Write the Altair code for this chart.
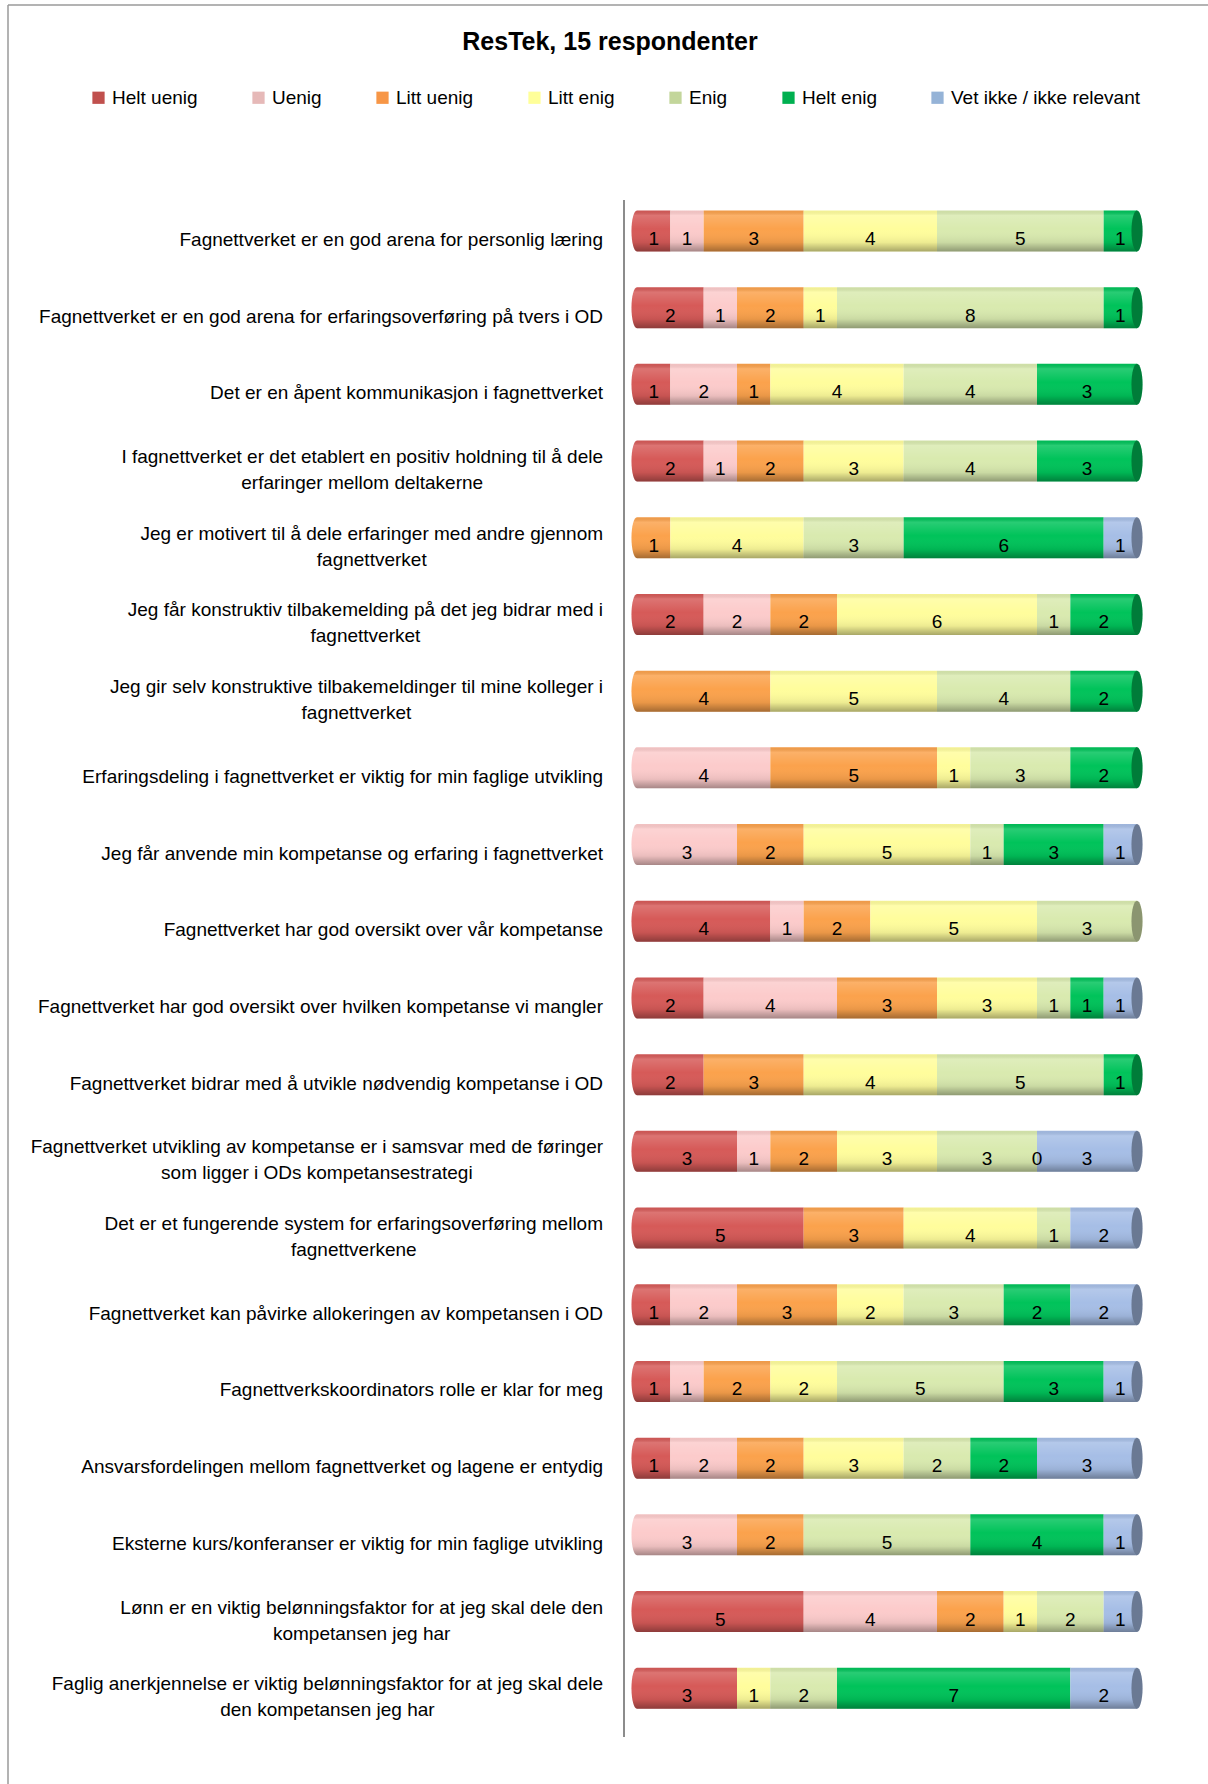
import altair as alt
import pandas as pd

TITLE = "ResTek, 15 respondenter"
FONT = "Liberation Sans"

categories = [
    "Helt uenig", "Uenig", "Litt uenig", "Litt enig",
    "Enig", "Helt enig", "Vet ikke / ikke relevant",
]
# Legend swatches and the lit cylinder bodies
palette = ["#C0504D", "#E6B9B8", "#F79646", "#FFFF99", "#C3D69B", "#00B050", "#95B3D7"]
body_palette = ["#D65A58", "#FCCBCB", "#FBA24C", "#FFFD9C", "#D9EAAF", "#00C35A", "#A6BEE6"]

# Statements, split into the lines they are printed on
questions = [
    ("Fagnettverket er en god arena for personlig læring",),
    ("Fagnettverket er en god arena for erfaringsoverføring på tvers i OD",),
    ("Det er en åpent kommunikasjon i fagnettverket",),
    ("I fagnettverket er det etablert en positiv holdning til å dele", "erfaringer mellom deltakerne"),
    ("Jeg er motivert til å dele erfaringer med andre gjennom", "fagnettverket"),
    ("Jeg får konstruktiv tilbakemelding på det jeg bidrar med i", "fagnettverket"),
    ("Jeg gir selv konstruktive tilbakemeldinger til mine kolleger i", "fagnettverket"),
    ("Erfaringsdeling i fagnettverket er viktig for min faglige utvikling",),
    ("Jeg får anvende min kompetanse og erfaring i fagnettverket",),
    ("Fagnettverket har god oversikt over vår kompetanse",),
    ("Fagnettverket har god oversikt over hvilken kompetanse vi mangler",),
    ("Fagnettverket bidrar med å utvikle nødvendig kompetanse i OD",),
    ("Fagnettverket utvikling av kompetanse er i samsvar med de føringer", "som ligger i ODs kompetansestrategi"),
    ("Det er et fungerende system for erfaringsoverføring mellom", "fagnettverkene"),
    ("Fagnettverket kan påvirke allokeringen av kompetansen i OD",),
    ("Fagnettverkskoordinators rolle er klar for meg",),
    ("Ansvarsfordelingen mellom fagnettverket og lagene er entydig",),
    ("Eksterne kurs/konferanser er viktig for min faglige utvikling",),
    ("Lønn er en viktig belønningsfaktor for at jeg skal dele den", "kompetansen jeg har"),
    ("Faglig anerkjennelse er viktig belønningsfaktor for at jeg skal dele", "den kompetansen jeg har"),
]

# Number of respondents per answer (None = no answer recorded)
helt_uenig = [1, 2, 1, 2, None, 2, None, None, None, 4, 2, 2, 3, 5, 1, 1, 1, None, 5, 3]
uenig      = [1, 1, 2, 1, None, 2, None, 4, 3, 1, 4, None, 1, None, 2, 1, 2, 3, 4, None]
litt_uenig = [3, 2, 1, 2, 1, 2, 4, 5, 2, 2, 3, 3, 2, 3, 3, 2, 2, 2, 2, None]
litt_enig  = [4, 1, 4, 3, 4, 6, 5, 1, 5, 5, 3, 4, 3, 4, 2, 2, 3, None, 1, 1]
enig       = [5, 8, 4, 4, 3, 1, 4, 3, 1, 3, 1, 5, 3, 1, 3, 5, 2, 5, 2, 2]
helt_enig  = [1, 1, 3, 3, 6, 2, 2, 2, 3, None, 1, 1, 0, None, 2, 3, 2, 4, None, 7]
vet_ikke   = [None, None, None, None, 1, None, None, None, 1, None, 1, None, 3, 2, 2, 1, 3, 1, 1, 2]

series = [helt_uenig, uenig, litt_uenig, litt_enig, enig, helt_enig, vet_ikke]

# ---- layout (pixels) ----
PLOT_LEFT, PLOT_TOP = 637, 192.6
PLOT_W, PLOT_H = 500, 1534
TOTAL_W, TOTAL_H = 1208, 1784
BAR_H = 41
LABEL_RIGHT = 603 - PLOT_LEFT
LABEL_SIZE = 19

# Advance widths (1/1000 em) of Liberation Sans, used to centre wrapped label lines
WIDTHS = {
    " ": 278, "/": 278, ".": 278, ",": 278,
    "a": 556, "b": 556, "c": 500, "d": 556, "e": 556, "f": 278, "g": 556, "h": 556,
    "i": 222, "j": 222, "k": 500, "l": 222, "m": 833, "n": 556, "o": 556, "p": 556,
    "q": 556, "r": 333, "s": 500, "t": 278, "u": 556, "v": 500, "w": 722, "x": 500,
    "y": 500, "z": 500, "å": 556, "æ": 889, "ø": 611,
    "A": 667, "B": 667, "C": 722, "D": 722, "E": 667, "F": 611, "G": 778, "H": 722,
    "I": 278, "J": 500, "K": 667, "L": 556, "M": 833, "N": 722, "O": 778, "P": 667,
    "R": 722, "S": 667, "T": 611, "U": 722, "V": 667,
}


def text_width(s, size):
    return sum(WIDTHS.get(ch, 556) for ch in s) * size / 1000.0


segs, rows, single, multi = [], [], [], []
for i, lines in enumerate(questions):
    qid = f"Q{i + 1:02d}"
    start, first, last = 0, None, None
    for cat, vals in zip(categories, series):
        v = vals[i]
        if v is None:
            continue
        segs.append(dict(qid=qid, cat=cat, value=v, x0=start, x1=start + v, mid=start + v / 2))
        if v > 0:
            first = first or cat
            last = cat
        start += v
    rows.append(dict(qid=qid, zero=0, total=start, first=first, last=last))
    if len(lines) == 1:
        single.append(dict(qid=qid, text=lines[0]))
    else:
        block = max(text_width(l, LABEL_SIZE) for l in lines)
        for k, l in enumerate(lines):
            multi.append(dict(qid=qid, line=k, text=l, cx=LABEL_RIGHT - block / 2))

seg_df = pd.DataFrame(segs)
row_df = pd.DataFrame(rows)
single_df = pd.DataFrame(single)
multi_df = pd.DataFrame(multi)

y_enc = alt.Y("qid:N", sort="ascending", axis=None,
              scale=alt.Scale(paddingInner=1 - BAR_H / (PLOT_H / 20),
                              paddingOuter=(1 - BAR_H / (PLOT_H / 20)) / 2))
x_scale = alt.Scale(domain=[0, 15], nice=False, zero=True)
legend_scale = alt.Scale(domain=categories, range=palette)
body_scale = alt.Scale(domain=categories, range=body_palette)

# vertical lighting of a cylinder: soft highlight above, shadow below
shade = alt.Gradient(
    gradient="linear", x1=0, y1=0, x2=0, y2=1,
    stops=[
        alt.GradientStop(offset=0.0, color="rgba(0,0,0,0.04)"),
        alt.GradientStop(offset=0.12, color="rgba(255,255,255,0.16)"),
        alt.GradientStop(offset=0.45, color="rgba(255,255,255,0.0)"),
        alt.GradientStop(offset=0.78, color="rgba(0,0,0,0.07)"),
        alt.GradientStop(offset=1.0, color="rgba(0,0,0,0.34)"),
    ],
)

ELLIPSE = ("M0,-1 C0.149,-1 0.27,-0.552 0.27,0 C0.27,0.552 0.149,1 0,1 "
           "C-0.149,1 -0.27,0.552 -0.27,0 C-0.27,-0.552 -0.149,-1 0,-1 Z")
HALF_LEFT = "M0,-1 C-0.149,-1 -0.27,-0.552 -0.27,0 C-0.27,0.552 -0.149,1 0,1 Z"
CAP_SIZE = BAR_H * BAR_H

dummy = alt.Data(values=[{}])

frame_left = alt.Chart(dummy).mark_rule(color="#9a9a9a", strokeWidth=1.5).encode(
    x=alt.value(8 - PLOT_LEFT), y=alt.value(5 - PLOT_TOP), y2=alt.value(TOTAL_H - PLOT_TOP))
frame_top = alt.Chart(dummy).mark_rule(color="#9a9a9a", strokeWidth=1.5).encode(
    x=alt.value(8 - PLOT_LEFT), x2=alt.value(TOTAL_W - PLOT_LEFT), y=alt.value(5 - PLOT_TOP))
axis_line = alt.Chart(dummy).mark_rule(color="#8c8c8c", strokeWidth=2).encode(
    x=alt.value(624 - PLOT_LEFT), y=alt.value(200 - PLOT_TOP), y2=alt.value(1737 - PLOT_TOP))

# legend carrier: draws nothing, only holds the legend swatches
legend_layer = alt.Chart(seg_df).transform_filter("false").mark_bar().encode(
    x=alt.X("x0:Q", scale=x_scale, axis=None),
    y=y_enc,
    color=alt.Color(
        "cat:N", scale=legend_scale,
        legend=alt.Legend(
            orient="none", legendX=89 - PLOT_LEFT, legendY=88 - PLOT_TOP,
            direction="horizontal", title=None, symbolType="square",
            symbolSize=150, symbolStrokeWidth=0, symbolOpacity=1, labelFont=FONT,
            labelFontSize=LABEL_SIZE, labelColor="#000000", labelOffset=4,
            columnPadding=51, padding=0, labelLimit=400,
        ),
    ),
)

bars = alt.Chart(seg_df).transform_filter("datum.value > 0").mark_bar(
    strokeWidth=0).encode(
    x=alt.X("x0:Q", scale=x_scale, axis=None),
    x2="x1:Q",
    y=y_enc,
    color=alt.Color("cat:N", scale=body_scale, legend=None),
)

left_end = alt.Chart(row_df).mark_point(
    shape=HALF_LEFT, size=CAP_SIZE, filled=True, opacity=1, strokeWidth=0).encode(
    x=alt.X("zero:Q", scale=x_scale), y=y_enc,
    color=alt.Color("first:N", scale=body_scale, legend=None))

left_shade = alt.Chart(row_df).mark_point(
    shape=HALF_LEFT, size=CAP_SIZE, filled=True, opacity=1, strokeWidth=0,
    fill=shade).encode(x=alt.X("zero:Q", scale=x_scale), y=y_enc)

body_shade = alt.Chart(row_df).mark_bar(fill=shade, strokeWidth=0).encode(
    x=alt.X("zero:Q", scale=x_scale), x2="total:Q", y=y_enc)

cap = alt.Chart(row_df).mark_point(
    shape=ELLIPSE, size=CAP_SIZE, filled=True, opacity=1, strokeWidth=0).encode(
    x=alt.X("total:Q", scale=x_scale), y=y_enc,
    color=alt.Color("last:N", scale=body_scale, legend=None))

cap_dark = alt.Chart(row_df).mark_point(
    shape=ELLIPSE, size=CAP_SIZE, filled=True, fill="#000000", opacity=0.36,
    strokeWidth=0).encode(x=alt.X("total:Q", scale=x_scale), y=y_enc)

values = alt.Chart(seg_df).mark_text(
    font=FONT, fontSize=LABEL_SIZE, color="#000000", baseline="middle", dy=8).encode(
    x=alt.X("mid:Q", scale=x_scale), y=y_enc, text="value:Q")

single_labels = alt.Chart(single_df).mark_text(
    font=FONT, fontSize=LABEL_SIZE, color="#000000", align="right",
    baseline="middle", dy=9).encode(
    x=alt.value(LABEL_RIGHT), y=y_enc, text="text:N")

first_lines = alt.Chart(multi_df).transform_filter("datum.line == 0").mark_text(
    font=FONT, fontSize=LABEL_SIZE, color="#000000", align="center",
    baseline="middle", dy=-4).encode(
    x=alt.X("cx:Q", scale=None), y=y_enc, text="text:N")

second_lines = alt.Chart(multi_df).transform_filter("datum.line == 1").mark_text(
    font=FONT, fontSize=LABEL_SIZE, color="#000000", align="center",
    baseline="middle", dy=22).encode(
    x=alt.X("cx:Q", scale=None), y=y_enc, text="text:N")

title = alt.Chart(alt.Data(values=[{"t": TITLE}])).mark_text(
    font=FONT, fontSize=25, fontWeight="bold", color="#000000",
    align="center", baseline="middle").encode(
    x=alt.value(610 - PLOT_LEFT), y=alt.value(42 - PLOT_TOP), text="t:N")

chart = alt.layer(
    frame_left, frame_top, axis_line, legend_layer,
    bars, left_end, left_shade, body_shade, cap, cap_dark,
    values, single_labels, first_lines, second_lines, title,
).resolve_scale(color="independent").properties(
    width=PLOT_W, height=PLOT_H,
    padding={"left": PLOT_LEFT, "top": PLOT_TOP,
             "right": TOTAL_W - PLOT_LEFT - PLOT_W,
             "bottom": TOTAL_H - PLOT_TOP - PLOT_H},
    autosize=alt.AutoSizeParams(type="none"),
    background="#ffffff",
).configure_view(stroke=None)

chart.save("out.html", embed_options={"renderer": "svg", "actions": False})
